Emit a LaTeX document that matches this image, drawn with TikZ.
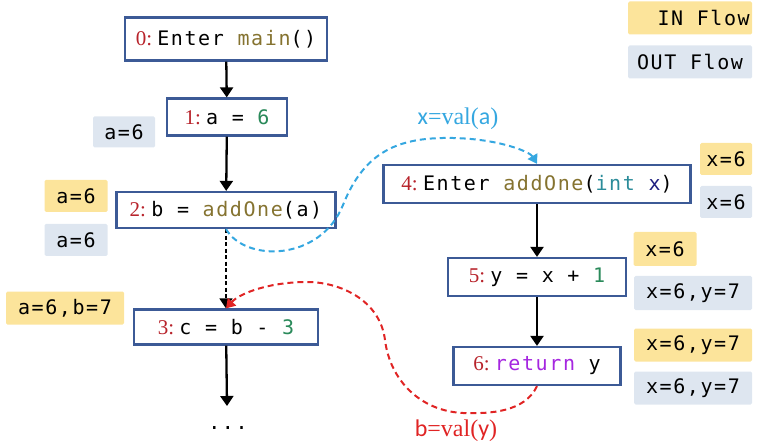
\documentclass[tikz,border=0pt]{standalone}
\usepackage{fontspec}
\setmainfont{Liberation Serif}
\newfontfamily\codefont[LetterSpace=8]{DejaVu Sans Mono}
\newfontfamily\numfont{Liberation Serif}
\newfontfamily\sansx{Carlito}
\usetikzlibrary{arrows.meta}
\definecolor{bordc}{HTML}{3C5A96}
\definecolor{numred}{HTML}{B8232B}
\definecolor{funcol}{HTML}{857330}
\definecolor{numgreen}{HTML}{2A8A5A}
\definecolor{typecol}{HTML}{2B8C9A}
\definecolor{varcol}{HTML}{1E1E80}
\definecolor{retcol}{HTML}{A526E0}
\definecolor{infill}{HTML}{FCE49B}
\definecolor{outfill}{HTML}{DEE6F0}
\definecolor{bluec}{HTML}{35A7E0}
\definecolor{redc}{HTML}{E02424}
\newcommand\nm[1]{{\numfont\fontsize{21}{24}\selectfont\color{numred}#1:\ }}
\newcommand\fn[1]{{\color{funcol}#1}}
\newcommand\gn[1]{{\color{numgreen}#1}}
\tikzset{
  stmt/.style={draw=bordc, line width=2.2pt, fill=white, inner sep=0pt, align=center,
    font=\codefont\fontsize{20}{24}\selectfont},
  flowlbl/.style={inner sep=0pt, rounded corners=1.5pt, font=\codefont\fontsize{20}{24}\selectfont, align=center},
  inlbl/.style={flowlbl, fill=infill},
  outlbl/.style={flowlbl, fill=outfill},
  flow/.style={-{Triangle[length=10pt,width=13pt]}, line width=2.3pt, black},
  call/.style={-{Triangle[length=9pt,width=11pt]}, line width=2pt, dash pattern=on 6pt off 4pt},
}
\begin{document}
\begin{tikzpicture}[x=1pt,y=-1pt]
\useasboundingbox (0,0) rectangle (768,446);
% statement nodes
\node[stmt, minimum width=202pt, minimum height=43pt] (n0) at (226,39) {\nm{0}Enter \fn{main}()};
\node[stmt, minimum width=120pt, minimum height=37pt] (n1) at (227,117) {\nm{1}a = \gn{6}};
\node[stmt, minimum width=219pt, minimum height=36pt] (n2) at (226,210) {\nm{2}b = \fn{addOne}(a)};
\node[stmt, minimum width=184pt, minimum height=35pt] (n3) at (226,327) {\nm{3}c = b - \gn{3}};
\node[stmt, minimum width=307pt, minimum height=38pt] (n4) at (537,184) {\nm{4}Enter \fn{addOne}({\color{typecol}int} {\color{varcol}x})};
\node[stmt, minimum width=178pt, minimum height=38pt] (n5) at (537,277) {\nm{5}y = x + \gn{1}};
\node[stmt, minimum width=167pt, minimum height=38pt] (n6) at (537,366) {\nm{6}{\color{retcol}return} y};
\node[font=\codefont\fontsize{20}{24}\selectfont] (dots) at (228,428) {...};
\coordinate (dtop) at (227,406);
% flow labels
\node[inlbl, minimum width=124pt, minimum height=33pt] (legin) at (690,18) {\ \ IN Flow};
\node[outlbl, minimum width=124pt, minimum height=33pt] (legout) at (690,62) {OUT Flow};
\node[outlbl, minimum width=62pt, minimum height=31pt] (o1) at (124,132) {a=6};
\node[inlbl, minimum width=63pt, minimum height=32pt] (i2) at (76,196) {a=6};
\node[outlbl, minimum width=63pt, minimum height=32pt] (o2) at (76,240) {a=6};
\node[inlbl, minimum width=118pt, minimum height=33pt] (i3) at (65,308) {a=6,b=7};
\node[inlbl, minimum width=52pt, minimum height=32pt] (i4) at (726,159) {x=6};
\node[outlbl, minimum width=52pt, minimum height=32pt] (o4) at (726,202) {x=6};
\node[inlbl, minimum width=63pt, minimum height=34pt] (i5) at (665,249) {x=6};
\node[outlbl, minimum width=118pt, minimum height=34pt] (o5) at (693,293) {x=6,y=7};
\node[inlbl, minimum width=118pt, minimum height=33pt] (i6) at (693,345) {x=6,y=7};
\node[outlbl, minimum width=118pt, minimum height=33pt] (o6) at (693,388) {x=6,y=7};
% normal flow
\draw[flow] (n0) -- (n1);
\draw[flow] (n1) -- (n2);
\draw[flow] (n3) -- (dtop);
\draw[flow] (n4) -- (n5);
\draw[flow] (n5) -- (n6);
\draw[flow, dash pattern=on 4pt off 2.5pt, line width=1.6pt] (n2) -- (n3);
% call / return edges
\draw[call, bluec] (n2.south) .. controls (245,262) and (320,262) .. (343,205)
   .. controls (365,150) and (400,137) .. (453,138)
   .. controls (500,139) and (530,152) .. (n4.north);
\draw[call, redc] (n6.south) .. controls (525,412) and (490,414) .. (463,413)
   .. controls (420,411) and (390,380) .. (385,340)
   .. controls (380,300) and (340,282) .. (307,282)
   .. controls (270,282) and (240,293) .. (n3.north);
\node[text=bluec, font=\fontsize{24}{26}\selectfont] (lblx) at (458,119) {{\sansx x}=val({\sansx a})};
\node[text=redc, font=\fontsize{24}{26}\selectfont] (lblb) at (456,431) {{\sansx b}=val({\sansx y})};
\end{tikzpicture}
\end{document}
